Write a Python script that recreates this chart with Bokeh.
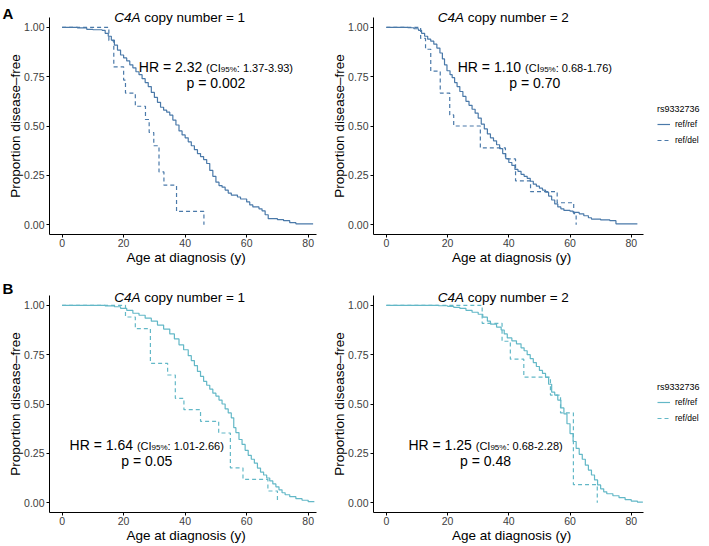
import math
from bokeh.plotting import figure
from bokeh.models import (Label, Legend, LegendItem, FixedTicker, NumeralTickFormatter, Range1d,
                          LinearAxis)
from bokeh.embed import file_html
from bokeh.resources import INLINE

# ---------------- data ----------------
X_TICKS = [0, 20, 40, 60, 80]
Y_TICKS = [0, 0.25, 0.5, 0.75, 1.0]
GROUPS = ["ref/ref", "ref/del"]
LEGEND_TITLE = "rs9332736"
COPY_NUMBERS = ["1", "2"]

# Panel A, C4A copy number = 1
A1_ref_t = [0, 5, 8, 10, 13, 14, 15, 16, 17, 18, 19, 20, 21, 22, 23, 24, 25, 26, 27, 28, 29, 30, 31, 32, 33,
            34, 35, 36, 37, 38, 39, 40, 41, 42, 43, 44, 45, 46, 47, 48, 49, 50, 51, 52, 53, 54, 55, 57, 58,
            60, 61, 62, 64, 65, 66, 67, 70, 72, 74, 76, 81.6]
A1_ref_s = [1, 0.997, 0.99, 0.988, 0.985, 0.97, 0.955, 0.935, 0.91, 0.885, 0.86, 0.845, 0.83, 0.81, 0.795,
            0.775, 0.76, 0.74, 0.72, 0.70, 0.67, 0.645, 0.62, 0.595, 0.58, 0.57, 0.555, 0.53, 0.505, 0.475,
            0.455, 0.44, 0.42, 0.40, 0.38, 0.36, 0.345, 0.33, 0.31, 0.275, 0.245, 0.215, 0.198, 0.19, 0.175,
            0.16, 0.15, 0.14, 0.13, 0.115, 0.10, 0.09, 0.08, 0.07, 0.05, 0.03, 0.025, 0.02, 0.01, 0.004, 0.004]
A1_del_t = [0, 15.2, 16.8, 20.0, 20.6, 23.8, 27.1, 28.3, 29.8, 31.5, 33.1, 37.2, 46.1]
A1_del_s = [1, 0.933, 0.8, 0.733, 0.667, 0.6, 0.533, 0.467, 0.4, 0.267, 0.2, 0.067, 0.0]

# Panel A, C4A copy number = 2
A2_ref_t = [0, 7, 9, 10.5, 11.5, 12.5, 13.5, 14.5, 15.5, 16.5, 17.5, 18.3, 19, 19.8, 20.8, 21.5, 22.3, 23.1,
            24, 25, 26, 27, 28, 29, 30, 31, 32, 33, 34, 35, 36, 37, 38, 39, 40, 41, 42, 43, 44, 45, 46, 47,
            48, 49, 50, 51, 52, 53, 54, 55, 56, 57, 58, 60, 61, 63, 64.5, 66, 67, 70, 73, 75, 82]
A2_ref_s = [1, 0.998, 0.993, 0.985, 0.97, 0.955, 0.94, 0.93, 0.915, 0.895, 0.87, 0.84, 0.81, 0.78, 0.76,
            0.745, 0.72, 0.70, 0.675, 0.65, 0.625, 0.605, 0.585, 0.565, 0.54, 0.51, 0.485, 0.46, 0.44, 0.425,
            0.405, 0.385, 0.36, 0.335, 0.315, 0.30, 0.28, 0.27, 0.255, 0.245, 0.235, 0.22, 0.205, 0.195,
            0.185, 0.175, 0.165, 0.145, 0.125, 0.105, 0.09, 0.08, 0.072, 0.068, 0.062, 0.055, 0.045, 0.035,
            0.028, 0.024, 0.02, 0.004, 0.004]
A2_del_t = [0, 11.2, 12.8, 14.5, 17.6, 20.7, 22.0, 30.7, 38.9, 42.2, 47.1, 55.8, 61.2, 62.0]
A2_del_s = [1, 0.944, 0.889, 0.778, 0.667, 0.556, 0.5, 0.389, 0.333, 0.222, 0.167, 0.111, 0.056, 0.0]

# Panel B, C4A copy number = 1
B1_ref_t = [0, 14, 17, 19, 21, 23, 25, 27, 29, 31, 33, 35, 36.5, 38, 39.5, 41, 42, 43, 44, 45, 46, 47, 48,
            49, 50, 51, 52, 53, 54, 55, 55.8, 56.5, 57.5, 58.5, 59.5, 60.5, 61.5, 62.5, 63.5, 64.5, 65.5,
            66.5, 67.5, 68.5, 69.5, 70.5, 71.5, 72.5, 74, 76, 78, 80, 82]
B1_ref_s = [1, 0.997, 0.993, 0.985, 0.975, 0.96, 0.95, 0.935, 0.92, 0.9, 0.88, 0.855, 0.83, 0.8, 0.775,
            0.745, 0.72, 0.695, 0.665, 0.64, 0.615, 0.595, 0.575, 0.555, 0.54, 0.52, 0.5, 0.475, 0.455, 0.43,
            0.38, 0.355, 0.32, 0.295, 0.265, 0.24, 0.22, 0.2, 0.175, 0.155, 0.14, 0.125, 0.11, 0.095, 0.08,
            0.065, 0.05, 0.04, 0.03, 0.02, 0.012, 0.005, 0.005]
B1_del_t = [0, 20.6, 23.8, 28.7, 34.3, 36.8, 39.6, 45.0, 50.9, 54.7, 58.8, 66.9, 70.0]
B1_del_s = [1, 0.941, 0.882, 0.706, 0.647, 0.529, 0.471, 0.412, 0.353, 0.176, 0.118, 0.059, 0.0]

# Panel B, C4A copy number = 2
B2_ref_t = [0, 17, 20, 22, 24, 26, 28, 30, 31.5, 33, 34, 36, 37.5, 38.5, 39.5, 41, 42.5, 44, 45, 46, 47, 48,
            49, 50, 51, 52, 53, 54, 55, 56, 57, 58, 59, 60, 61, 62, 63, 64, 65, 66, 67, 68, 69, 70, 71, 72,
            74, 76, 78, 80, 82, 83.8]
B2_ref_s = [1, 0.998, 0.995, 0.99, 0.985, 0.975, 0.965, 0.955, 0.94, 0.92, 0.905, 0.89, 0.875, 0.855,
            0.835, 0.82, 0.805, 0.785, 0.77, 0.75, 0.73, 0.71, 0.69, 0.67, 0.655, 0.635, 0.6, 0.56, 0.545,
            0.52, 0.48, 0.45, 0.4, 0.35, 0.31, 0.275, 0.245, 0.22, 0.19, 0.165, 0.14, 0.115, 0.09, 0.07,
            0.055, 0.045, 0.035, 0.025, 0.015, 0.008, 0.003, 0.003]
B2_del_t = [0, 31.3, 37.8, 40.5, 44.9, 53.6, 56.9, 61.1, 68.9]
B2_del_s = [1, 0.909, 0.818, 0.727, 0.636, 0.545, 0.455, 0.091, 0.0]

# statistics annotations
HR_TEXT = ["2.32", "1.10", "1.64", "1.25"]
CI_TEXT = ["1.37-3.93", "0.68-1.76", "1.01-2.66", "0.68-2.28"]
P_TEXT = ["0.002", "0.70", "0.05", "0.48"]
STAT_X = [50, 48.5, 27.5, 32.4]
STAT_Y_HR = [0.80, 0.80, 0.29, 0.29]
STAT_Y_P = [0.72, 0.72, 0.21, 0.21]

# ---------------- layout & styling ----------------
FONT = "Liberation Sans"
COL_A = "#4a79a9"
COL_B = "#63b8c7"
DASH = "4 3"
TXT_GREY = "#3d3d3d"

FIG_W, FIG_H = 708, 545
COL_PX = {"L": (49, 316), "R": (373, 643)}      # frame left/right of each panel column (px)
ROW_PX = {"A": (17, 234), "B": (295, 512)}      # frame top/bottom of each panel row (px)
XLIM = {"L": (-4.1, 82.7), "R": (-4.2, 84.0)}
YLIM = (-0.05, 1.05)
XNAME = {"L": "default", "R": "xr"}
YNAME = {"A": "default", "B": "yb"}


def x_map(col):
    px0, px1 = COL_PX[col]
    d0, d1 = XLIM[col]
    s = (px1 - px0) / (d1 - d0)
    start = d0 - px0 / s
    return start, start + FIG_W / s, s


def y_map(rw):
    py0, py1 = ROW_PX[rw]
    d0, d1 = YLIM
    s = (py1 - py0) / (d1 - d0)
    top = d1 + py0 / s
    return top - FIG_H / s, top, s


XM = {c: x_map(c) for c in COL_PX}
YM = {r: y_map(r) for r in ROW_PX}


def xd(col, px):
    return XM[col][0] + px / XM[col][2]


def yd(rw, py):
    return YM[rw][1] - py / YM[rw][2]


CHAR_W = {' ': 278, '(': 333, ')': 333, 'C': 722, 'I': 278, '%': 889, ':': 278, '.': 278, '-': 333,
          'H': 722, 'R': 722, '=': 584, 'p': 556, 'c': 500, 'o': 556, 'y': 500, 'n': 556, 'u': 556,
          'm': 833, 'b': 556, 'e': 556, 'r': 333, 'A': 667}


def tw(s, size):
    return sum(CHAR_W.get(ch, 556) for ch in s) * size / 1000.0


p = figure(width=FIG_W, height=FIG_H, output_backend="svg", toolbar_location=None,
           x_range=Range1d(XM["L"][0], XM["L"][1]), y_range=Range1d(YM["A"][0], YM["A"][1]),
           x_axis_type=None, y_axis_type=None,
           min_border_left=0, min_border_right=0, min_border_top=0, min_border_bottom=0)
p.extra_x_ranges = {"xr": Range1d(XM["R"][0], XM["R"][1])}
p.extra_y_ranges = {"yb": Range1d(YM["B"][0], YM["B"][1])}
p.grid.visible = False
p.outline_line_color = None
p.background_fill_color = "white"
p.border_fill_color = "white"


def lab(col, rw, x, y, text, size, xo=0, align="left", style="normal", color="black", angle=0.0):
    p.add_layout(Label(x=x, y=y, x_range_name=XNAME[col], y_range_name=YNAME[rw], text=text,
                       x_offset=xo, text_font=FONT, text_font_size=f"{size}px", text_font_style=style,
                       text_align=align, text_baseline="middle", text_color=color, angle=angle))


def style_axis(ax):
    ax.axis_line_color = "black"
    ax.axis_line_width = 1
    ax.major_tick_line_color = "black"
    ax.major_tick_out = 3
    ax.major_tick_in = 0
    ax.minor_tick_line_color = None
    ax.major_label_text_font = FONT
    ax.major_label_text_font_size = "10.5px"
    ax.major_label_text_color = TXT_GREY


def build_panel(col, rw, t1, s1, t2, s2, color, idx, num):
    xn, yn = XNAME[col], YNAME[rw]
    r1 = p.step(t1, s1, mode="after", line_color=color, line_width=1.2, x_range_name=xn, y_range_name=yn)
    r2 = p.step(t2, s2, mode="after", line_color=color, line_width=1.2, line_dash=DASH,
                x_range_name=xn, y_range_name=yn)

    xa = LinearAxis(x_range_name=xn, y_range_name=yn, fixed_location=YLIM[0], bounds=XLIM[col],
                    ticker=FixedTicker(ticks=X_TICKS))
    style_axis(xa)
    xa.major_label_standoff = 1
    p.add_layout(xa, "below")
    ya = LinearAxis(x_range_name=xn, y_range_name=yn, fixed_location=XLIM[col][0], bounds=YLIM,
                    ticker=FixedTicker(ticks=Y_TICKS), formatter=NumeralTickFormatter(format="0.00"))
    style_axis(ya)
    ya.major_label_standoff = 2
    p.add_layout(ya, "left")

    # axis titles
    fb = ROW_PX[rw][1]
    lab(col, rw, sum(XLIM[col]) / 2 + 1.0, yd(rw, fb + 23), "Age at diagnosis (y)", 13.5, align="center")
    lab(col, rw, xd(col, COL_PX[col][0] - 34), sum(YLIM) / 2, "Proportion disease\u2013free", 13.5,
        align="center", angle=math.pi / 2)

    # panel title: italic gene name + rest
    s = 13.5
    it, rest = "C4A", f"copy number = {num}"
    w1 = tw(it, s)
    total = w1 + tw(" ", s) + tw(rest, s)
    ty = yd(rw, ROW_PX[rw][0] + (0 if rw == "A" else 2))
    lab(col, rw, 38.2, ty, it, s, xo=-total / 2, style="italic")
    lab(col, rw, 38.2, ty, rest, s, xo=-total / 2 + w1 + tw(" ", s))

    # HR / CI / p annotation
    sy = YM[rw][2]
    pieces = [(f"HR = {HR_TEXT[idx]}", 14, 0.0), (" ", 14, 0.0), ("(CI", 11, 1.0), ("95%", 8, 2.5),
              (f": {CI_TEXT[idx]})", 11, 1.0)]
    tot = sum(tw(t, z) for t, z, _ in pieces)
    off = -tot / 2
    for t, z, dn in pieces:
        if t.strip():
            lab(col, rw, STAT_X[idx], STAT_Y_HR[idx] - dn / sy, t, z, xo=off)
        off += tw(t, z)
    lab(col, rw, STAT_X[idx], STAT_Y_P[idx], f"p = {P_TEXT[idx]}", 14, align="center")
    return r1, r2


build_panel("L", "A", A1_ref_t, A1_ref_s, A1_del_t, A1_del_s, COL_A, 0, COPY_NUMBERS[0])
ra = build_panel("R", "A", A2_ref_t, A2_ref_s, A2_del_t, A2_del_s, COL_A, 1, COPY_NUMBERS[1])
build_panel("L", "B", B1_ref_t, B1_ref_s, B1_del_t, B1_del_s, COL_B, 2, COPY_NUMBERS[0])
rb = build_panel("R", "B", B2_ref_t, B2_ref_s, B2_del_t, B2_del_s, COL_B, 3, COPY_NUMBERS[1])

# panel letters
lab("L", "A", xd("L", 2), yd("A", ROW_PX["A"][0] - 4.5), "A", 15, style="bold")
lab("L", "B", xd("L", 2), yd("B", ROW_PX["B"][0] - 7), "B", 15, style="bold")


def add_legend(rr, rw):
    center = (ROW_PX[rw][0] + ROW_PX[rw][1]) / 2
    bottom_px = center + 20
    lg = Legend(items=[LegendItem(label=GROUPS[0], renderers=[rr[0]]),
                       LegendItem(label=GROUPS[1], renderers=[rr[1]])],
                title=LEGEND_TITLE, location=(657, FIG_H - bottom_px), orientation="vertical",
                title_text_font=FONT, title_text_font_size="9px", title_text_font_style="normal",
                title_text_color="black", title_standoff=4,
                label_text_font=FONT, label_text_font_size="8.5px", label_text_color="black",
                label_standoff=5, glyph_width=13, glyph_height=12, label_height=12, spacing=4,
                padding=2, margin=0, border_line_color=None, background_fill_alpha=0)
    p.add_layout(lg)


add_legend(ra, "A")
add_legend(rb, "B")

with open("out.html", "w") as f:
    f.write(file_html(p, INLINE))
